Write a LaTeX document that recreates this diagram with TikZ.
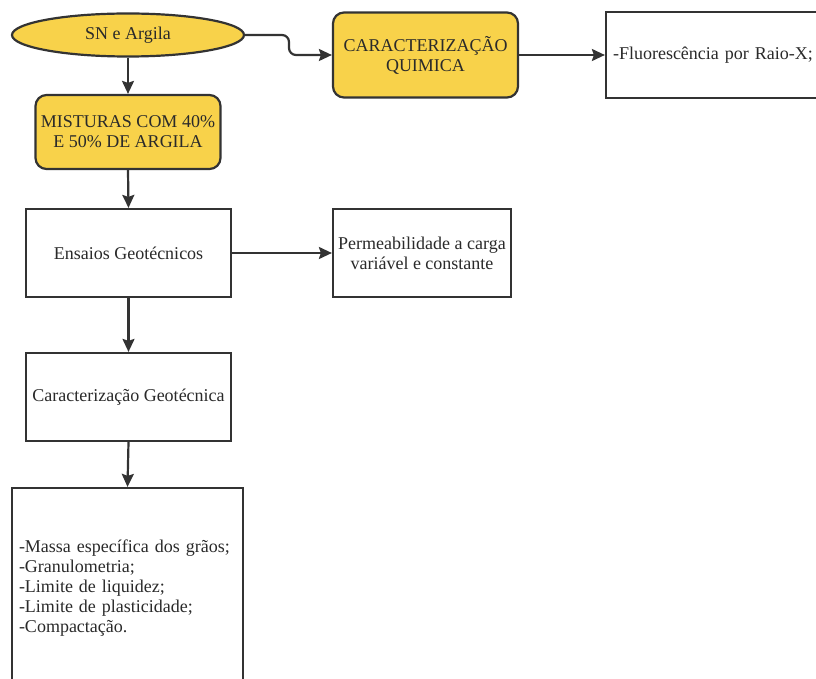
\documentclass[tikz,border=0pt]{standalone}
\usepackage{fontspec}
\setmainfont{Liberation Serif}
\usetikzlibrary{shapes.geometric,arrows.meta}
\definecolor{boxyellow}{HTML}{F8D24A}
\definecolor{lineclr}{HTML}{333333}
\definecolor{txtclr}{HTML}{2A2A2A}
\tikzset{
  base/.style={draw=lineclr, line width=2.2pt, text=txtclr, font=\rmfamily\fontsize{18}{20}\selectfont, align=center, inner sep=4pt},
  yellowbox/.style={base, fill=boxyellow, rounded corners=11pt},
  whitebox/.style={base, fill=white},
  oval/.style={base, ellipse, fill=boxyellow, inner sep=0pt},
  conn/.style={draw=lineclr, line width=2.2pt, -{Stealth[length=13pt,width=12pt,inset=2pt]}}
}
\begin{document}
\begin{tikzpicture}[x=1pt,y=-1pt]
\useasboundingbox (0,0) rectangle (816,679);
\fill[white] (0,0) rectangle (816,679);
\clip (0,0) rectangle (816,679);

\node[oval, minimum width=232pt, minimum height=43pt] (sn) at (128,35) {SN e Argila};
\node[yellowbox, minimum width=185pt, minimum height=85pt] (car) at (425.5,55) {CARACTERIZAÇÃO\\QUIMICA};
\node[whitebox, minimum width=236pt, minimum height=86pt, text width=222pt, align=left, inner xsep=7pt] (flu) at (724,55) {-Fluorescência por Raio-X;};
\node[yellowbox, minimum width=185pt, minimum height=74pt] (mis) at (128,132) {MISTURAS COM 40\%\\E 50\% DE ARGILA};
\node[whitebox, minimum width=205pt, minimum height=88pt] (ens) at (128.5,253) {Ensaios Geotécnicos};
\node[whitebox, minimum width=178pt, minimum height=88pt] (per) at (422,253) {Permeabilidade a carga\\variável e constante};
\node[whitebox, minimum width=205pt, minimum height=88pt] (cge) at (128.5,397) {Caracterização Geotécnica};
\node[whitebox, minimum width=231pt, minimum height=220pt, text width=217pt, align=left, inner xsep=7pt] (lst) at (127.5,598) {-Massa específica dos grãos;\\-Granulometria;\\-Limite de liquidez;\\-Limite de plasticidade;\\-Compactação.\\[4pt]\mbox{}};

\coordinate (k1) at (289,35);
\coordinate (k2) at (289,55);
\draw[conn, rounded corners=7pt] (sn.east) -- (k1) -- (k2) -- (car.west);
\draw[conn] (car.east) -- (flu.west);
\draw[conn] (sn.south) -- (mis.north);
\draw[conn] (mis.south) -- (ens.north);
\draw[conn] (ens.east) -- (per.west);
\draw[conn] (ens.south) -- (cge.north);
\draw[conn] (cge.south) -- (lst.north);
\end{tikzpicture}
\end{document}
